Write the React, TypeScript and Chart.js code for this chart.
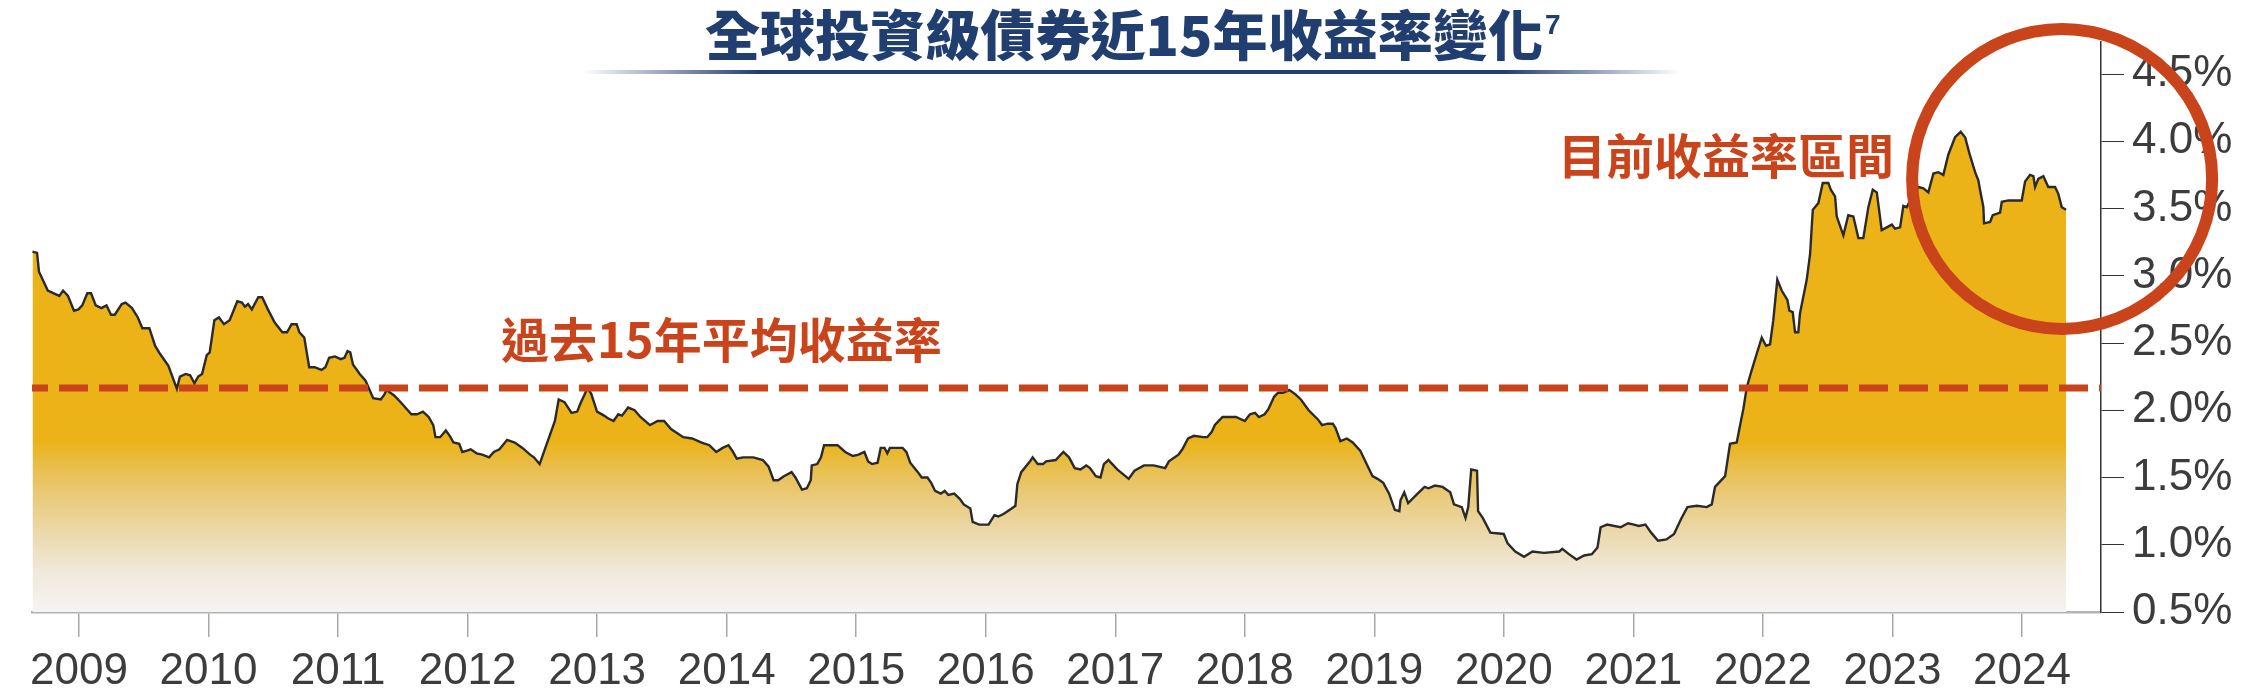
import React, { useEffect, useRef } from "react";
import { Chart, registerables } from "chart.js";

Chart.register(...registerables);

// ---- Data ----
const TITLE = "全球投資級債券近15年收益率變化";
const TITLE_NOTE = "7";
const AVG_LABEL = "過去15年平均收益率";
const CURRENT_LABEL = "目前收益率區間";

const YEAR_TICKS = [2009, 2010, 2011, 2012, 2013, 2014, 2015, 2016, 2017, 2018, 2019, 2020, 2021, 2022, 2023, 2024];
const YIELD_TICKS = [0.5, 1.0, 1.5, 2.0, 2.5, 3.0, 3.5, 4.0, 4.5];
const AVERAGE_YIELD = 2.165;
const CURRENT_RANGE_CENTER = { year: 2024.31, yield: 3.72 };

const dates = [
  2008.641, 2008.676, 2008.691, 2008.759, 2008.848, 2008.877, 2008.915, 2008.961, 2008.996, 2009.025,
  2009.064, 2009.093, 2009.129, 2009.173, 2009.212, 2009.247, 2009.276, 2009.33, 2009.359, 2009.409,
  2009.454, 2009.489, 2009.543, 2009.587, 2009.625, 2009.69, 2009.755, 2009.779, 2009.823, 2009.858,
  2009.891, 2009.92, 2009.95, 2009.986, 2010.009, 2010.045, 2010.08, 2010.119, 2010.163, 2010.222,
  2010.258, 2010.281, 2010.305, 2010.334, 2010.384, 2010.414, 2010.458, 2010.512, 2010.57, 2010.606,
  2010.641, 2010.68, 2010.701, 2010.739, 2010.777, 2010.819, 2010.872, 2010.902, 2010.931, 2010.976,
  2011.02, 2011.049, 2011.073, 2011.094, 2011.115, 2011.167, 2011.212, 2011.271, 2011.33, 2011.359,
  2011.374, 2011.433, 2011.492, 2011.566, 2011.61, 2011.655, 2011.699, 2011.735, 2011.752, 2011.788,
  2011.832, 2011.862, 2011.891, 2011.935, 2011.959, 2011.995, 2012.024, 2012.069, 2012.113, 2012.166,
  2012.202, 2012.246, 2012.305, 2012.364, 2012.423, 2012.482, 2012.512, 2012.556, 2012.6, 2012.674,
  2012.703, 2012.748, 2012.802, 2012.846, 2012.875, 2012.905, 2012.925, 2012.955, 2012.999, 2013.053,
  2013.083, 2013.127, 2013.163, 2013.192, 2013.239, 2013.289, 2013.334, 2013.408, 2013.467, 2013.517,
  2013.57, 2013.665, 2013.733, 2013.807, 2013.866, 2013.919, 2013.969, 2014.014, 2014.043, 2014.078,
  2014.126, 2014.206, 2014.279, 2014.324, 2014.362, 2014.397, 2014.442, 2014.501, 2014.531, 2014.581,
  2014.619, 2014.649, 2014.657, 2014.699, 2014.728, 2014.752, 2014.782, 2014.856, 2014.915, 2014.974,
  2015.018, 2015.063, 2015.092, 2015.122, 2015.165, 2015.189, 2015.219, 2015.24, 2015.26, 2015.299,
  2015.358, 2015.387, 2015.417, 2015.476, 2015.506, 2015.55, 2015.579, 2015.609, 2015.653, 2015.683,
  2015.712, 2015.757, 2015.801, 2015.83, 2015.881, 2015.899, 2015.949, 2016.022, 2016.067, 2016.097,
  2016.14, 2016.2, 2016.229, 2016.244, 2016.274, 2016.342, 2016.362, 2016.401, 2016.442, 2016.466,
  2016.54, 2016.599, 2016.643, 2016.687, 2016.732, 2016.776, 2016.805, 2016.85, 2016.886, 2016.912,
  2016.947, 2017.015, 2017.104, 2017.148, 2017.222, 2017.296, 2017.385, 2017.414, 2017.488, 2017.518,
  2017.562, 2017.607, 2017.68, 2017.71, 2017.745, 2017.769, 2017.828, 2017.887, 2017.932, 2018.0,
  2018.04, 2018.079, 2018.109, 2018.153, 2018.183, 2018.226, 2018.257, 2018.294, 2018.345, 2018.389,
  2018.433, 2018.493, 2018.566, 2018.596, 2018.64, 2018.679, 2018.7, 2018.738, 2018.788, 2018.833,
  2018.891, 2018.936, 2018.986, 2019.025, 2019.069, 2019.114, 2019.158, 2019.193, 2019.202, 2019.231,
  2019.261, 2019.334, 2019.388, 2019.418, 2019.468, 2019.527, 2019.586, 2019.615, 2019.675, 2019.704,
  2019.725, 2019.748, 2019.793, 2019.801, 2019.837, 2019.896, 2019.999, 2020.029, 2020.088, 2020.156,
  2020.221, 2020.309, 2020.428, 2020.451, 2020.502, 2020.561, 2020.62, 2020.679, 2020.723, 2020.747,
  2020.797, 2020.901, 2020.959, 2021.004, 2021.042, 2021.093, 2021.137, 2021.19, 2021.255, 2021.314,
  2021.367, 2021.417, 2021.491, 2021.566, 2021.605, 2021.63, 2021.708, 2021.746, 2021.798, 2021.824,
  2021.849, 2021.875, 2021.914, 2021.952, 2021.991, 2022.024, 2022.055, 2022.08, 2022.111, 2022.145,
  2022.189, 2022.204, 2022.23, 2022.248, 2022.273, 2022.286, 2022.338, 2022.364, 2022.385, 2022.428,
  2022.462, 2022.505, 2022.524, 2022.557, 2022.57, 2022.621, 2022.659, 2022.698, 2022.737, 2022.775,
  2022.814, 2022.848, 2022.879, 2022.917, 2022.956, 2022.995, 2023.02, 2023.059, 2023.084, 2023.11,
  2023.16, 2023.2, 2023.239, 2023.277, 2023.316, 2023.354, 2023.393, 2023.431, 2023.483, 2023.527,
  2023.561, 2023.594, 2023.638, 2023.663, 2023.676, 2023.702, 2023.707, 2023.754, 2023.774, 2023.831,
  2023.844, 2023.895, 2023.96, 2023.998, 2024.024, 2024.062, 2024.088, 2024.101, 2024.126, 2024.165,
  2024.203, 2024.255, 2024.28, 2024.307, 2024.34,
];

const yields = [
  3.18, 3.17, 3.03, 2.89, 2.85, 2.89, 2.85, 2.74, 2.75, 2.78,
  2.87, 2.87, 2.78, 2.76, 2.78, 2.71, 2.71, 2.79, 2.8, 2.76,
  2.69, 2.61, 2.61, 2.48, 2.42, 2.33, 2.16, 2.25, 2.27, 2.26,
  2.2, 2.25, 2.27, 2.41, 2.43, 2.67, 2.69, 2.64, 2.67, 2.81,
  2.8, 2.77, 2.79, 2.75, 2.84, 2.84, 2.75, 2.65, 2.58, 2.58,
  2.64, 2.64, 2.58, 2.54, 2.32, 2.32, 2.3, 2.32, 2.39, 2.4,
  2.38, 2.39, 2.44, 2.43, 2.34, 2.27, 2.22, 2.09, 2.08, 2.12,
  2.15, 2.11, 2.05, 1.97, 1.97, 1.99, 1.95, 1.89, 1.8, 1.8,
  1.85, 1.81, 1.76, 1.75, 1.69, 1.7, 1.71, 1.68, 1.67, 1.65,
  1.69, 1.71, 1.78, 1.76, 1.72, 1.67, 1.65, 1.6, 1.72, 1.92,
  2.08, 2.06, 1.98, 1.99, 2.06, 2.12, 2.17, 2.12, 1.99, 1.96,
  1.94, 1.92, 1.97, 1.96, 2.02, 2.0, 1.95, 1.89, 1.92, 1.92,
  1.86, 1.8, 1.79, 1.76, 1.74, 1.69, 1.72, 1.74, 1.7, 1.64,
  1.65, 1.65, 1.63, 1.58, 1.48, 1.48, 1.51, 1.54, 1.5, 1.41,
  1.42, 1.48, 1.59, 1.6, 1.65, 1.74, 1.74, 1.74, 1.69, 1.66,
  1.67, 1.69, 1.62, 1.6, 1.61, 1.72, 1.72, 1.68, 1.72, 1.72,
  1.72, 1.69, 1.61, 1.54, 1.5, 1.5, 1.46, 1.4, 1.38, 1.4,
  1.37, 1.38, 1.34, 1.3, 1.27, 1.17, 1.15, 1.15, 1.22, 1.21,
  1.23, 1.27, 1.29, 1.45, 1.54, 1.62, 1.65, 1.6, 1.6, 1.62,
  1.63, 1.69, 1.65, 1.57, 1.56, 1.59, 1.57, 1.51, 1.5, 1.6,
  1.63, 1.56, 1.49, 1.55, 1.59, 1.59, 1.57, 1.62, 1.67, 1.71,
  1.79, 1.81, 1.8, 1.8, 1.84, 1.89, 1.95, 1.95, 1.95, 1.92,
  1.97, 1.98, 1.95, 1.97, 2.01, 2.1, 2.13, 2.13, 2.15, 2.12,
  2.08, 2.0, 1.93, 1.89, 1.9, 1.9, 1.87, 1.77, 1.79, 1.76,
  1.7, 1.61, 1.51, 1.49, 1.46, 1.38, 1.26, 1.25, 1.33, 1.39,
  1.31, 1.38, 1.43, 1.42, 1.44, 1.43, 1.39, 1.3, 1.28, 1.2,
  1.28, 1.56, 1.55, 1.25, 1.2, 1.09, 1.08, 1.01, 0.95, 0.91,
  0.95, 0.94, 0.95, 0.97, 0.93, 0.89, 0.92, 0.93, 0.98, 1.13,
  1.15, 1.13, 1.16, 1.15, 1.14, 1.15, 1.09, 1.03, 1.04, 1.08,
  1.19, 1.28, 1.29, 1.28, 1.3, 1.43, 1.51, 1.75, 1.76, 1.89,
  2.01, 2.17, 2.3, 2.42, 2.54, 2.48, 2.49, 2.67, 2.97, 2.89,
  2.82, 2.74, 2.73, 2.58, 2.58, 2.72, 2.97, 3.16, 3.49, 3.54,
  3.69, 3.69, 3.64, 3.59, 3.44, 3.3, 3.45, 3.44, 3.28, 3.28,
  3.51, 3.64, 3.62, 3.34, 3.36, 3.38, 3.35, 3.36, 3.52, 3.51,
  3.6, 3.66, 3.65, 3.62, 3.76, 3.77, 3.75, 3.9, 4.03, 4.07,
  4.03, 3.91, 3.77, 3.71, 3.64, 3.51, 3.39, 3.4, 3.45, 3.47,
  3.55, 3.56, 3.56, 3.56, 3.7, 3.75, 3.74, 3.66, 3.72, 3.74,
  3.66, 3.66, 3.61, 3.51, 3.49,
];

// ---- Styles ----
const NAVY = "#213E70";
const ACCENT = "#C9441A";
const LINE = "#2a2a2a";
const TEXT = "#3c3c3c";
const NUM_FONT = "'Liberation Sans', Arial, sans-serif";
const CJK_FONT = "'Noto Sans CJK TC', 'Noto Sans CJK SC', sans-serif";

const overlayPlugin = {
  id: "overlay",
  afterDatasetsDraw(chart: any) {
    const { ctx, chartArea, scales } = chart;
    const y = scales.y.getPixelForValue(AVERAGE_YIELD);
    ctx.save();
    ctx.strokeStyle = ACCENT;
    ctx.lineWidth = 7;
    ctx.setLineDash([29, 11]);
    ctx.lineDashOffset = 13;
    ctx.beginPath();
    ctx.moveTo(chartArea.left, y);
    ctx.lineTo(chartArea.right, y);
    ctx.stroke();
    ctx.restore();
  },
  afterDraw(chart: any) {
    const { ctx, scales } = chart;
    ctx.save();

    // Title (heavy gothic)
    const titleCx = 1124;
    const titleCy = 35;
    ctx.font = `900 54px ${CJK_FONT}`;
    ctx.fillStyle = NAVY;
    ctx.textBaseline = "middle";
    const sx = 1.02;
    const tw = ctx.measureText(TITLE).width * sx;
    ctx.save();
    ctx.translate(titleCx, titleCy);
    ctx.scale(sx, 1);
    ctx.textAlign = "center";
    ctx.fillText(TITLE, 0, 0);
    ctx.restore();
    ctx.font = `700 28px ${NUM_FONT}`;
    ctx.textAlign = "left";
    ctx.textBaseline = "top";
    ctx.fillText(TITLE_NOTE, titleCx + tw / 2 + 2, 12);

    // Title underline with faded ends
    const ux0 = 582;
    const ux1 = 1680;
    const g = ctx.createLinearGradient(ux0, 0, ux1, 0);
    g.addColorStop(0, "rgba(33,62,112,0)");
    g.addColorStop(0.16, "rgba(33,62,112,1)");
    g.addColorStop(0.84, "rgba(33,62,112,1)");
    g.addColorStop(1, "rgba(33,62,112,0)");
    ctx.fillStyle = g;
    ctx.fillRect(ux0, 70, ux1 - ux0, 4);

    // Annotation labels
    ctx.fillStyle = ACCENT;
    ctx.font = `700 48px ${CJK_FONT}`;
    ctx.textAlign = "left";
    ctx.textBaseline = "middle";
    ctx.fillText(AVG_LABEL, 501, 340);
    ctx.fillText(CURRENT_LABEL, 1558, 156);

    // Highlight circle
    const cx = scales.x.getPixelForValue(CURRENT_RANGE_CENTER.year);
    const cy = scales.y.getPixelForValue(CURRENT_RANGE_CENTER.yield);
    ctx.strokeStyle = ACCENT;
    ctx.lineWidth = 12;
    ctx.beginPath();
    ctx.arc(cx, cy, 150, 0, Math.PI * 2);
    ctx.stroke();

    ctx.restore();
  },
};

function areaFill(context: any) {
  const chart = context.chart;
  const area = chart.chartArea;
  if (!area) return "#EBB317";
  const g = chart.ctx.createLinearGradient(0, area.top, 0, area.bottom);
  g.addColorStop(0, "#EBB317");
  g.addColorStop(0.7, "#EBB317");
  g.addColorStop(0.75, "#E9BF4F");
  g.addColorStop(0.8, "#EACB7C");
  g.addColorStop(0.865, "#ECDAAE");
  g.addColorStop(0.93, "#F0E9DB");
  g.addColorStop(1, "#F6F4F2");
  return g;
}

export default function App() {
  const canvasRef = useRef<HTMLCanvasElement | null>(null);

  useEffect(() => {
    document.body.style.margin = "0";
    const canvas = canvasRef.current;
    if (!canvas) return;
    const points = dates.map((d, i) => ({ x: d, y: yields[i] }));
    const chart = new Chart(canvas, {
      type: "line",
      data: {
        datasets: [
          {
            data: points,
            borderColor: LINE,
            borderWidth: 2.4,
            pointRadius: 0,
            tension: 0,
            fill: "start",
            backgroundColor: areaFill,
          },
        ],
      },
      options: {
        animation: false,
        responsive: false,
        devicePixelRatio: 1,
        layout: { padding: { left: 32, top: 42, right: 0, bottom: 0 } },
        plugins: { legend: { display: false }, tooltip: { enabled: false }, title: { display: false } },
        scales: {
          x: {
            type: "linear",
            min: 2008.637,
            max: 2024.61,
            afterBuildTicks: (scale: any) => {
              scale.ticks = YEAR_TICKS.map((v) => ({ value: v }));
            },
            afterFit: (scale: any) => {
              scale.height = 84;
              scale.paddingLeft = 0;
              scale.paddingRight = 0;
            },
            grid: { drawOnChartArea: false, drawTicks: true, tickLength: 25, color: "#a8a8a8", lineWidth: 1.5 },
            border: { display: true, color: "#b3b3b3", width: 2.5 },
            ticks: {
              autoSkip: false,
              maxRotation: 0,
              padding: 8,
              color: TEXT,
              font: { family: NUM_FONT, size: 44 },
              callback: (v: any) => String(v),
            },
          },
          y: {
            type: "linear",
            position: "right",
            min: 0.5,
            max: 4.738,
            afterBuildTicks: (scale: any) => {
              scale.ticks = YIELD_TICKS.map((v) => ({ value: v }));
            },
            afterFit: (scale: any) => {
              scale.width = 159;
              scale.paddingTop = 0;
              scale.paddingBottom = 0;
            },
            grid: { drawOnChartArea: false, drawTicks: true, tickLength: 23, color: "#333", lineWidth: 1 },
            border: { display: true, color: "#333", width: 1.5 },
            ticks: {
              autoSkip: false,
              padding: 8,
              color: TEXT,
              font: { family: NUM_FONT, size: 44 },
              callback: (v: any) => Number(v).toFixed(1) + "%",
            },
          },
        },
      },
      plugins: [overlayPlugin],
    });
    return () => chart.destroy();
  }, []);

  return (
    <div style={{ width: 2260, height: 696, background: "#fff" }}>
      <canvas ref={canvasRef} width={2260} height={696} style={{ display: "block" }} />
    </div>
  );
}
